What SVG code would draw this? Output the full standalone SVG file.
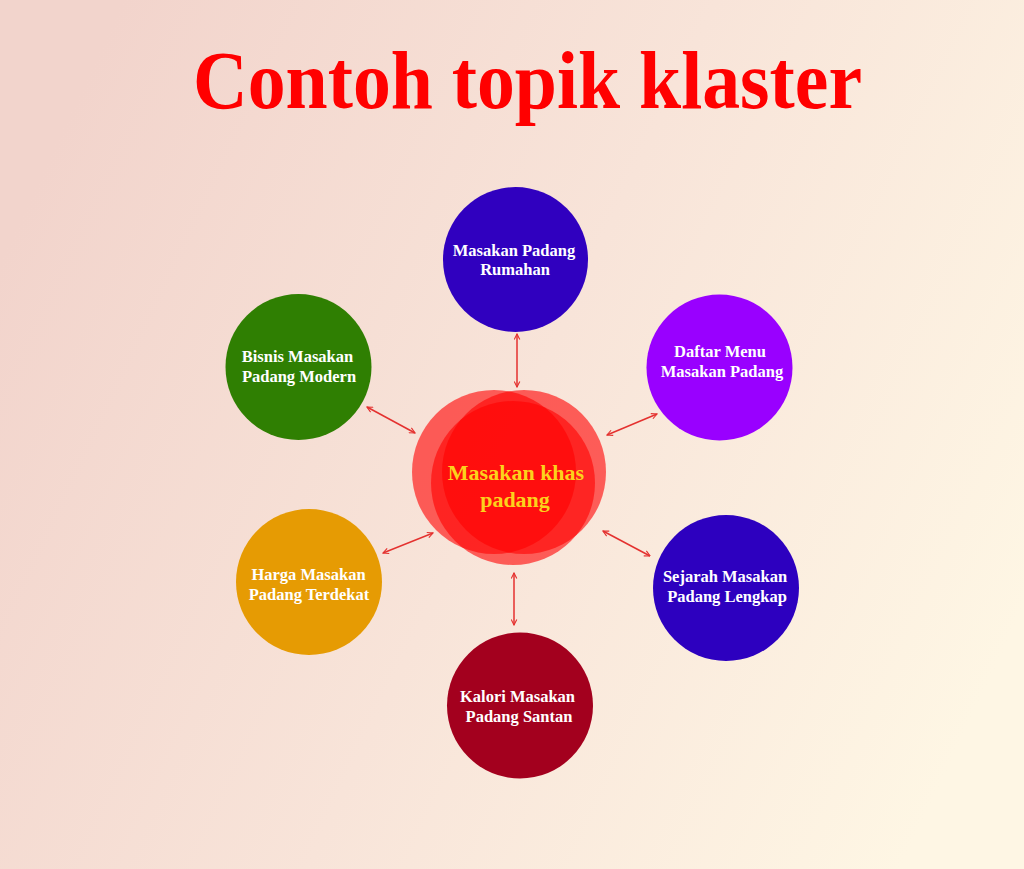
<svg xmlns="http://www.w3.org/2000/svg" width="1024" height="869" viewBox="0 0 1024 869">
  <defs>
    <linearGradient id="bg" x1="0" y1="0.3" x2="1" y2="0.7">
      <stop offset="0" stop-color="#f2d4cc"/>
      <stop offset="0.5" stop-color="#f8e4d9"/>
      <stop offset="1" stop-color="#fef6e4"/>
    </linearGradient>
    <marker id="ah" viewBox="0 0 10 10" refX="9" refY="5" markerWidth="7" markerHeight="7" orient="auto-start-reverse" markerUnits="userSpaceOnUse">
      <path d="M1,1 L9,5 L1,9" fill="none" stroke="#e4312f" stroke-width="1.6"/>
    </marker>
    <style>
      .lbl { font-family: "Liberation Serif", "Times New Roman", serif; font-weight: bold; font-size: 16.5px; fill: #ffffff; text-anchor: middle; }
      .conn { stroke: #e4312f; stroke-width: 1.5; fill: none; marker-start: url(#ah); marker-end: url(#ah); }
      .blob { fill: #ff0000; fill-opacity: 0.6; }
      .ctr { font-family: "Liberation Serif", "Times New Roman", serif; font-weight: bold; font-size: 22px; fill: #fcd21c; text-anchor: middle; }
    </style>
  </defs>

  <rect x="0" y="0" width="1024" height="869" fill="url(#bg)"/>

  <text x="527.5" y="108" font-family="'Liberation Serif', 'Times New Roman', serif" font-weight="bold" font-size="83" fill="#ff0000" text-anchor="middle" textLength="669" lengthAdjust="spacingAndGlyphs">Contoh topik klaster</text>

  <g id="connectors">
    <line class="conn" x1="517" y1="334" x2="517" y2="387"/>
    <line class="conn" x1="367" y1="407" x2="415" y2="433"/>
    <line class="conn" x1="607" y1="435" x2="657" y2="414"/>
    <line class="conn" x1="603" y1="531" x2="650" y2="556"/>
    <line class="conn" x1="383" y1="553" x2="433" y2="533"/>
    <line class="conn" x1="514" y1="573" x2="514" y2="625"/>
  </g>

  <g id="center">
    <circle class="blob" cx="494" cy="472" r="82"/>
    <circle class="blob" cx="524" cy="472" r="82"/>
    <circle class="blob" cx="513" cy="483" r="82"/>
    <text class="ctr" x="516" y="480">Masakan khas</text>
    <text class="ctr" x="515" y="507">padang</text>
  </g>

  <g id="node-rumahan">
    <circle cx="515.5" cy="259.5" r="72.5" fill="#3000bf"/>
    <text class="lbl" x="514" y="256">Masakan Padang</text>
    <text class="lbl" x="515" y="275">Rumahan</text>
  </g>

  <g id="node-bisnis">
    <circle cx="298.5" cy="367" r="73" fill="#2f7f02"/>
    <text class="lbl" x="297.5" y="362">Bisnis Masakan</text>
    <text class="lbl" x="299" y="382">Padang Modern</text>
  </g>

  <g id="node-daftar">
    <circle cx="719.5" cy="367.5" r="73" fill="#9900ff"/>
    <text class="lbl" x="720" y="357">Daftar Menu</text>
    <text class="lbl" x="722" y="377">Masakan Padang</text>
  </g>

  <g id="node-sejarah">
    <circle cx="726" cy="588" r="73" fill="#2d00bf"/>
    <text class="lbl" x="725" y="582">Sejarah Masakan</text>
    <text class="lbl" x="727" y="602">Padang Lengkap</text>
  </g>

  <g id="node-harga">
    <circle cx="309" cy="582" r="73" fill="#e69b03"/>
    <text class="lbl" x="308.5" y="580">Harga Masakan</text>
    <text class="lbl" x="309" y="600">Padang Terdekat</text>
  </g>

  <g id="node-kalori">
    <circle cx="520" cy="705.5" r="73" fill="#a3001e"/>
    <text class="lbl" x="517.5" y="702">Kalori Masakan</text>
    <text class="lbl" x="519" y="722">Padang Santan</text>
  </g>
</svg>
